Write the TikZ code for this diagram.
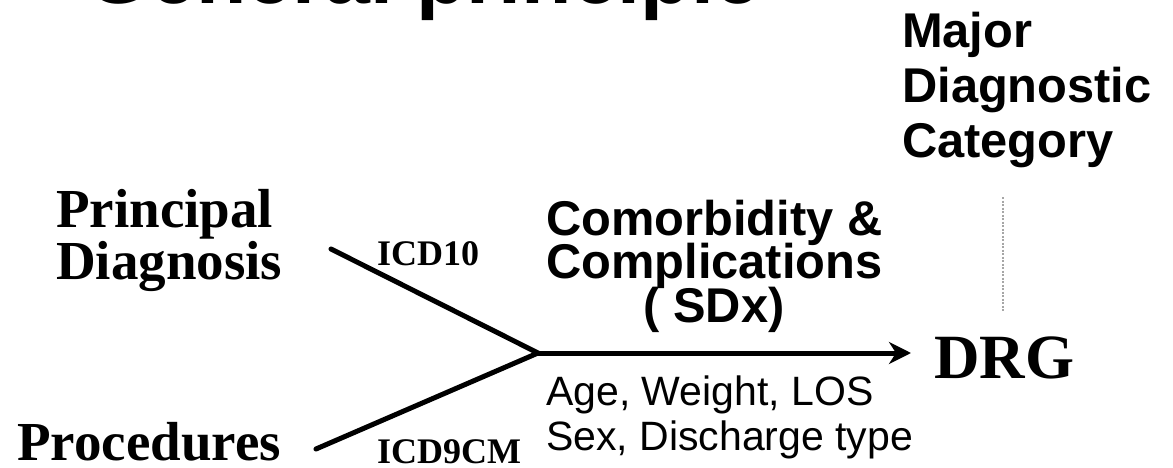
\documentclass[tikz,border=0pt]{standalone}
\usepackage{fontspec}
\setmainfont{Liberation Serif}
\newfontfamily\arial{Liberation Sans}
\usetikzlibrary{arrows.meta}
\tikzset{
  lbl/.style={inner sep=0pt, anchor=base west},
  lblc/.style={inner sep=0pt, anchor=base},
  serifbig/.style={font=\fontsize{55}{55}\selectfont\bfseries},
  serifsmall/.style={font=\fontsize{36}{36}\selectfont\bfseries},
  sansbold/.style={font=\arial\fontsize{48.8}{48.8}\selectfont\bfseries},
  sansreg/.style={font=\arial\fontsize{41}{41}\selectfont},
  flow/.style={line width=5pt, line cap=round},
  guide/.style={draw=gray!70, line width=2pt, dash pattern=on 2pt off 1.5pt}
}
\begin{document}
\begin{tikzpicture}[x=1pt,y=-1pt]
\useasboundingbox (0,0) rectangle (1173,468);
\clip (0,0) rectangle (1173,468);
% title (cut off at the top)
\node[lbl, font=\arial\fontsize{82.5}{82.5}\selectfont\bfseries] (title) at (86,4) {General principle};
% left labels
\node[lbl, serifbig] (pd1) at (56,227) {Principal};
\node[lbl, serifbig] (pd2) at (56,279) {Diagnosis};
\node[lbl, serifbig] (proc) at (17,460) {Procedures};
\node[lbl, serifsmall] (icd10) at (377,265) {ICD10};
\node[lbl, serifsmall] (icd9) at (377,463) {ICD9CM};
% middle labels
\node[lbl, sansbold] (cc1) at (546,235) {Comorbidity \&};
\node[lbl, sansbold] (cc2) at (546,278) {Complications};
\node[lblc, sansbold] (cc3) at (714,322) {( SDx)};
\node[lbl, sansreg] (age) at (546,405) {Age, Weight, LOS};
\node[lbl, sansreg] (sex) at (546,450) {Sex, Discharge type};
% right labels
\node[lbl, sansbold] (mdc1) at (902,48) {Major};
\node[lbl, sansbold] (mdc2) at (902,103) {Diagnostic};
\node[lbl, sansbold] (mdc3) at (902,158) {Category};
\node[lbl, font=\fontsize{63}{63}\selectfont\bfseries] (drg) at (934,378) {DRG};
% connectors
\coordinate (a) at (331,249);
\coordinate (b) at (316,449);
\coordinate (v) at (538,353);
\coordinate (tip) at (911,353);
\coordinate (gtop) at (1003,197);
\coordinate (gbot) at (1003,312);
\draw[flow] (a) -- (v) -- (b);
\draw[flow, line cap=butt, -{Stealth[length=22pt,width=22pt,inset=7pt]}] (v) -- (tip);
\draw[guide] (gtop) -- (gbot);
\end{tikzpicture}
\end{document}
